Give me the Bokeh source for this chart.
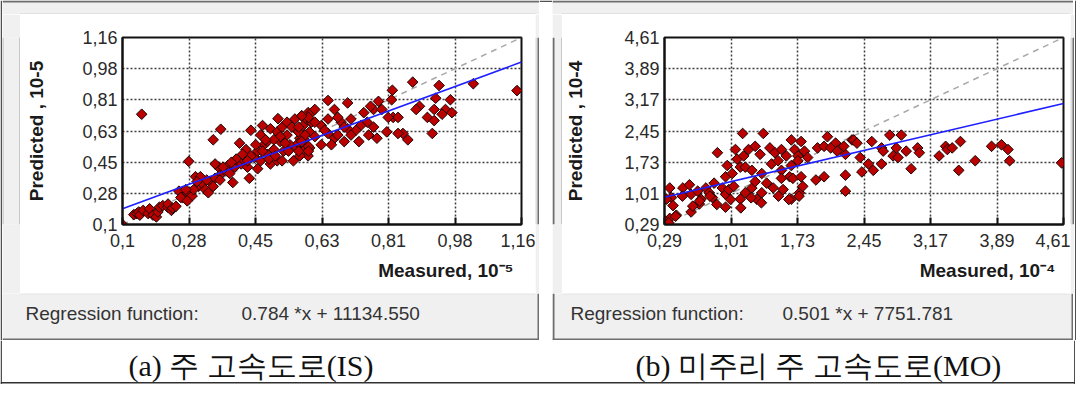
import math
from bokeh.plotting import figure
from bokeh.models import Range1d, FixedTicker, Label, ColumnDataSource, Title
from bokeh.layouts import row, column
from bokeh.embed import file_html
from bokeh.resources import INLINE

# ---------------- data ----------------
# panel (a) : main highways (IS), units 10^-5
a_measured = [
    0.100, 0.130, 0.138, 0.143, 0.146, 0.155, 0.168, 0.172, 0.181, 0.190, 0.194, 0.198, 0.207, 0.220,
    0.221, 0.230, 0.233, 0.242,
    0.151, 0.513, 0.361, 0.341, 0.276,
    0.250, 0.259, 0.272, 0.285, 0.294, 0.302, 0.311, 0.320, 0.333, 0.346, 0.355, 0.363, 0.372, 0.346,
    0.380, 0.393, 0.398, 0.415, 0.424, 0.437, 0.432, 0.411, 0.428, 0.441, 0.450, 0.459, 0.467, 0.476,
    0.485, 0.493, 0.502, 0.511, 0.519, 0.528, 0.537, 0.545, 0.554, 0.563, 0.571, 0.580, 0.589, 0.597,
    0.580, 0.467, 0.485, 0.459, 0.385, 0.328,
    0.472, 0.493, 0.511, 0.524, 0.537, 0.550, 0.558, 0.567, 0.576, 0.593, 0.602, 0.519, 0.532, 0.541,
    0.502, 0.480, 0.454, 0.472, 0.489, 0.506, 0.524, 0.567, 0.584, 0.597, 0.593, 0.571, 0.441, 0.432,
    0.419, 0.402, 0.389, 0.367, 0.359, 0.341, 0.324, 0.307, 0.298, 0.289, 0.268, 0.255, 0.272,
    0.871, 0.817, 0.941, 1.032, 0.646, 0.698, 0.780, 0.815, 0.932, 0.971, 0.889, 0.880, 0.928, 0.958,
    0.975, 0.949, 0.910, 0.928, 0.923, 0.858, 0.845, 0.832, 0.776, 0.802, 0.819, 0.832, 0.806, 0.767,
    0.789, 0.759, 0.741, 0.750, 0.767, 0.733, 0.720, 0.698, 0.681, 0.672, 0.663, 0.646, 0.628, 0.611,
    0.602, 0.611, 0.594, 0.576, 0.568, 0.585, 0.611, 0.646, 0.663, 0.689, 0.672, 0.707, 0.728, 0.754,
    0.594, 0.568, 0.628, 0.655, 0.637, 0.707, 0.689, 0.576, 0.594, 1.148,
]
a_predicted = [
    0.100, 0.156, 0.162, 0.171, 0.153, 0.180, 0.162, 0.189, 0.153, 0.143, 0.171, 0.198, 0.207, 0.198,
    0.216, 0.180, 0.193, 0.203,
    0.725, 0.700, 0.640, 0.580, 0.458,
    0.289, 0.253, 0.280, 0.262, 0.371, 0.316, 0.334, 0.298, 0.343, 0.362, 0.425, 0.389, 0.407, 0.443,
    0.434, 0.338, 0.425, 0.443, 0.461, 0.362, 0.425, 0.561, 0.525, 0.634, 0.480, 0.516, 0.461, 0.552,
    0.498, 0.443, 0.525, 0.461, 0.570, 0.516, 0.607, 0.552, 0.461, 0.534, 0.589, 0.661, 0.698, 0.625,
    0.516, 0.607, 0.570, 0.416, 0.389, 0.280,
    0.661, 0.643, 0.625, 0.652, 0.680, 0.652, 0.698, 0.625, 0.716, 0.734, 0.680, 0.598, 0.561, 0.516,
    0.580, 0.580, 0.552, 0.516, 0.471, 0.489, 0.461, 0.561, 0.580, 0.534, 0.489, 0.489, 0.489, 0.461,
    0.498, 0.471, 0.452, 0.425, 0.352, 0.316, 0.352, 0.371, 0.343, 0.298, 0.298, 0.253, 0.234,
    0.907, 0.861, 0.888, 0.898, 0.803, 0.789, 0.798, 0.807, 0.816, 0.807, 0.770, 0.752, 0.752, 0.752,
    0.734, 0.725, 0.707, 0.689, 0.616, 0.580, 0.616, 0.616, 0.589, 0.625, 0.707, 0.707, 0.707, 0.752,
    0.752, 0.770, 0.734, 0.680, 0.652, 0.661, 0.634, 0.643, 0.680, 0.707, 0.752, 0.698, 0.661, 0.680,
    0.734, 0.752, 0.707, 0.716, 0.652, 0.607, 0.598, 0.616, 0.589, 0.570, 0.607, 0.607, 0.570, 0.607,
    0.543, 0.516, 0.552, 0.552, 0.634, 0.698, 0.652, 0.570, 0.516, 0.859,
]

# panel (b) : Missouri highways (MO), units 10^-4
b_measured = [
    1.136, 1.360, 1.663, 1.769, 2.054, 2.143, 2.249, 2.320,
    1.200, 1.272, 1.325, 1.431, 1.485, 1.556, 1.609, 1.698, 1.734, 1.805, 1.840, 1.947, 2.018, 2.089, 2.160,
    1.076, 1.147, 1.058, 0.863, 1.111,
    0.969, 0.951, 1.023, 1.165, 1.236, 1.343, 1.449, 1.520, 1.556, 1.663, 1.645, 1.734, 1.680, 1.769,
    1.929, 2.018, 1.556,
    0.347, 0.365, 0.489, 0.560, 0.578, 0.649, 0.685, 0.738, 0.774, 0.809, 0.827, 0.916, 0.951, 0.987,
    1.040, 1.111, 1.165, 1.236, 1.289, 1.343, 1.396, 1.467, 1.574, 1.663, 1.752, 1.787, 1.272,
    0.311, 0.382, 0.418, 0.347, 0.294, 0.578, 0.951, 0.667,
    2.231, 2.338, 2.374, 2.409, 2.534, 2.498, 2.640, 2.658, 2.729, 2.854, 2.800, 2.907, 2.765, 2.818,
    2.640, 3.031, 3.049, 2.960, 2.427, 2.551, 2.249, 2.249, 3.263, 3.334, 3.352, 3.405, 3.494, 3.476,
    3.654, 3.831, 3.938, 4.009, 4.027, 4.589,
    0.484, 0.596, 0.670, 0.782, 0.856, 1.005, 1.116, 1.228, 1.339, 1.524, 1.636, 1.747, 0.410, 0.336,
]
b_predicted = [
    2.393, 2.393, 2.244, 2.207, 2.318, 2.170, 1.911, 2.244,
    2.022, 2.096, 1.911, 2.059, 1.948, 2.022, 1.874, 2.022, 1.874, 1.985, 1.837, 2.059, 2.096, 2.059, 1.985,
    1.800, 1.874, 2.022, 1.948, 1.615,
    1.652, 1.393, 1.467, 1.615, 1.541, 1.467, 1.689, 1.763, 1.541, 1.652, 1.393, 1.763, 1.356, 1.393,
    1.319, 1.393, 1.356,
    1.134, 0.912, 1.134, 1.208, 0.986, 1.060, 0.875, 1.134, 1.023, 0.912, 1.245, 1.134, 0.986, 1.097,
    1.171, 0.875, 1.023, 1.134, 0.875, 1.023, 1.245, 1.134, 1.097, 0.875, 1.023, 1.171, 1.282,
    0.875, 0.727, 0.505, 0.431, 0.372, 0.579, 0.690, 0.764,
    2.096, 2.244, 2.170, 1.837, 2.207, 1.689, 2.059, 1.985, 2.355, 2.355, 2.059, 1.985, 1.874, 1.837,
    1.689, 2.059, 1.948, 1.578, 1.504, 1.541, 1.430, 1.060, 1.874, 2.096, 2.022, 2.059, 2.207, 1.541,
    1.763, 2.096, 2.133, 2.022, 1.763, 1.714,
    0.945, 0.714, 0.830, 0.945, 0.752, 0.867, 0.674, 0.907, 0.792, 0.945, 0.867, 0.945, 0.480, 0.330,
]

a_axis = (0.1, 1.16)
b_axis = (0.29, 4.61)
a_tick_labels = ["0,1", "0,28", "0,45", "0,63", "0,81", "0,98", "1,16"]
b_tick_labels = ["0,29", "1,01", "1,73", "2,45", "3,17", "3,89", "4,61"]

a_slope, a_intercept, a_unit = 0.784, 11134.550, 1e-5
b_slope, b_intercept, b_unit = 0.501, 7751.781, 1e-4

a_xlabel, a_ylabel = "Measured, 10\u207b\u2075", "Predicted , 10-5"
b_xlabel, b_ylabel = "Measured, 10\u207b\u2074", "Predicted , 10-4"
reg_label = "Regression function:"
a_reg_text = "0.784 *x + 11134.550"
b_reg_text = "0.501 *x + 7751.781"
a_caption = "(a)  주 고속도로(IS)"
b_caption = "(b) 미주리 주 고속도로(MO)"

GRAY = "#f0f0f0"
DARK = "#6e6e6e"


def canvas_fig(w, h, fill):
    f = figure(width=w, height=h, x_range=Range1d(0, w), y_range=Range1d(h, 0), min_border=0,
               toolbar_location=None, output_backend="svg", x_axis_location=None, y_axis_location=None,
               outline_line_color=None, background_fill_color=fill, border_fill_color=fill)
    f.grid.visible = False
    return f


def bar(f, l, r, t, b, color):
    f.quad(left=[l], right=[r], top=[t], bottom=[b], fill_color=color, line_color=None)


def text(f, x, y, s, size, font="Liberation Sans", color="#333333", style="normal"):
    f.add_layout(Label(x=x, y=y, text=s, text_font=font, text_font_size=size, text_color=color,
                       text_font_style=style, text_align="left", text_baseline="middle"))


def plot_fig(width, ml, measured, predicted, axis, tick_labels, slope, intercept, unit, xlabel, ylabel, ylab_off):
    fw, fh, mt, mb = 399, 187, 23, 69
    lo, hi = axis
    p = figure(frame_width=fw, frame_height=fh, min_border_left=ml, min_border_right=width - ml - fw,
               min_border_top=mt, min_border_bottom=mb, x_range=Range1d(lo, hi), y_range=Range1d(lo, hi),
               toolbar_location=None, output_backend="svg", title=None)
    p.border_fill_color = "white"
    p.background_fill_color = "white"
    p.outline_line_color = "#111111"
    p.outline_line_width = 2

    ticks = [lo + k * (hi - lo) / 6 for k in range(7)]
    overrides = dict(zip(ticks, tick_labels))
    for ax in (p.xaxis[0], p.yaxis[0]):
        ax.ticker = FixedTicker(ticks=ticks)
        ax.major_label_overrides = overrides
        ax.minor_tick_line_color = None
        ax.axis_line_color = "#111111"
        ax.axis_line_width = 2
        ax.major_tick_line_color = "#111111"
        ax.major_tick_line_width = 2
        ax.major_label_text_font = "Liberation Sans"
        ax.major_label_text_font_size = "18px"
        ax.major_label_text_color = "#2a2a2a"
    p.xaxis.major_tick_in = 7
    p.xaxis.major_tick_out = 0
    p.xaxis.major_label_standoff = 9
    p.yaxis.major_tick_in = 0
    p.yaxis.major_tick_out = 0
    p.yaxis.major_label_standoff = 5
    p.yaxis.axis_label = ylabel
    p.yaxis.axis_label_standoff = ylab_off
    p.yaxis.axis_label_text_font = "Liberation Sans"
    p.yaxis.axis_label_text_font_size = "19px"
    p.yaxis.axis_label_text_font_style = "bold"
    p.yaxis.axis_label_text_color = "#1a1a1a"
    for g in (p.xgrid[0], p.ygrid[0]):
        g.ticker = FixedTicker(ticks=ticks)
        g.grid_line_color = "#3c3c3c"
        g.grid_line_dash = "2 2"
        g.grid_line_width = 1.5

    p.add_layout(Title(text=xlabel, align="right", offset=8, standoff=16, text_font="Liberation Sans",
                       text_font_size="19px", text_font_style="bold", text_color="#1a1a1a"), "below")

    p.line([lo, hi], [lo, hi], line_color="#a8a8a8", line_dash="6 5", line_width=1.5)
    src = ColumnDataSource(dict(x=measured, y=predicted))
    p.scatter("x", "y", source=src, marker="square", angle=math.pi / 4, size=7.5,
              fill_color="#bb0000", line_color="#1a0505", line_width=1)
    b0 = intercept * unit
    p.line([lo, hi], [slope * lo + b0, slope * hi + b0], line_color="#1e1eff", line_width=1.6)
    return p


def dialog(total_w, left_w, plot_w, measured, predicted, axis, tick_labels, slope, intercept, unit,
           xlabel, ylabel, reg_text, reg_x, val_x, ml, ylab_off, first):
    right_w = total_w - left_w - plot_w
    top = canvas_fig(total_w, 14, GRAY)
    bar(top, 0, total_w, 0, 2, DARK)
    bar(top, left_w - 1, left_w + plot_w, 13, 14, "#d2d2d2")
    left = canvas_fig(left_w, 279, GRAY)
    if first:
        bar(left, 0, 1, 0, 279, "#b4b4b4")
    else:
        bar(left, 0, 2, 0, 279, DARK)
    bar(left, left_w - 1, left_w, 0, 279, "#a0a0a0")
    right = canvas_fig(right_w, 279, GRAY)
    bar(right, 0, 1, 0, 279, "#c8c8c8")
    bar(right, right_w - 2, right_w, 0, 279, DARK)
    p = plot_fig(plot_w, ml, measured, predicted, axis, tick_labels, slope, intercept, unit, xlabel, ylabel,
                 ylab_off)
    reg = canvas_fig(total_w, 47, GRAY)
    bar(reg, left_w, left_w + plot_w, 0, 1, "#e2e2e2")
    bar(reg, 0, total_w, 45, 47, DARK)
    bar(reg, total_w - 2, total_w, 0, 47, DARK)
    if not first:
        bar(reg, 0, 2, 0, 47, DARK)
    text(reg, reg_x, 20, reg_label, "19px")
    text(reg, val_x, 20, reg_text, "19px")
    return column(top, row(left, p, right), reg)


edge_l = canvas_fig(2, 340, "white")
bar(edge_l, 0, 1.5, 0, 340, "#505050")
dlg_a = dialog(537, 18, 515, a_measured, a_predicted, a_axis, a_tick_labels, a_slope, a_intercept, a_unit,
               a_xlabel, a_ylabel, a_reg_text, 23, 239, 102, 32, True)
gap = canvas_fig(13, 340, "white")
bar(gap, 0, 13, 0, 1.5, "#505050")
dlg_b = dialog(521, 10, 507, b_measured, b_predicted, b_axis, b_tick_labels, b_slope, b_intercept, b_unit,
               b_xlabel, b_ylabel, b_reg_text, 18, 230, 101, 35, False)
edge_r = canvas_fig(2, 340, "white")
bar(edge_r, 0.5, 2, 0, 340, "#505050")

cap = canvas_fig(1075, 44, "white")
bar(cap, 0, 1.5, 0, 44, "#505050")
bar(cap, 1073.5, 1075, 0, 44, "#505050")
bar(cap, 0, 1075, 41.5, 43, "#303030")
text(cap, 128, 25, a_caption, "30px", font="Liberation Serif", color="#111111")
text(cap, 635, 25, b_caption, "30px", font="Liberation Serif", color="#111111")

page = column(row(edge_l, dlg_a, gap, dlg_b, edge_r), cap)
open("out.html", "w").write(file_html(page, INLINE))
